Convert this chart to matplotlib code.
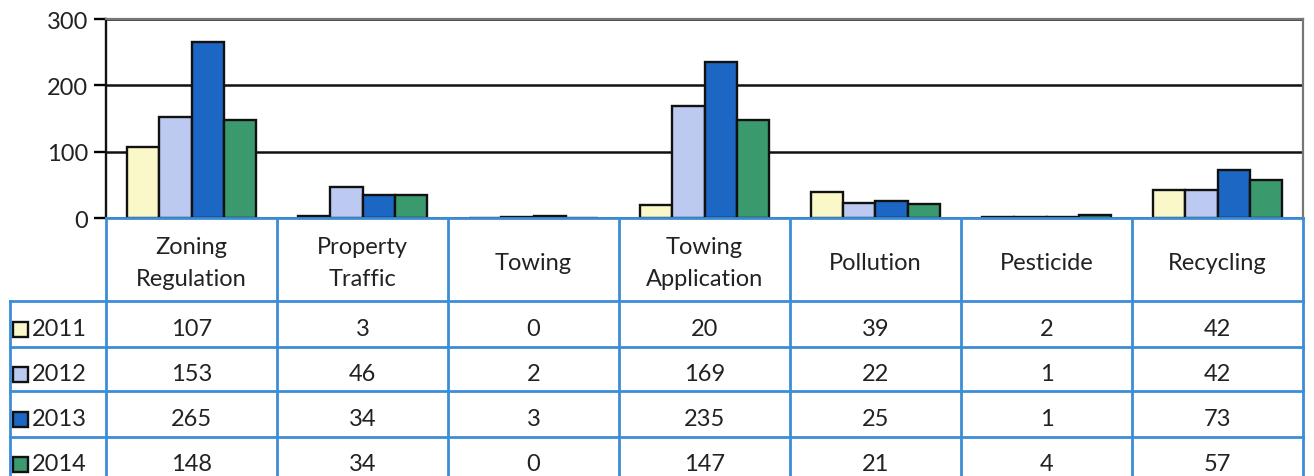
import matplotlib
matplotlib.use("Agg")
import matplotlib.pyplot as plt
from matplotlib.patches import Rectangle

categories = ["Zoning\nRegulation", "Property\nTraffic", "Towing", "Towing\nApplication",
              "Pollution", "Pesticide", "Recycling"]
years = ["2011", "2012", "2013", "2014"]
v2011 = [107, 3, 0, 20, 39, 2, 42]
v2012 = [153, 46, 2, 169, 22, 1, 42]
v2013 = [265, 34, 3, 235, 25, 1, 73]
v2014 = [148, 34, 0, 147, 21, 4, 57]
series = [v2011, v2012, v2013, v2014]
colors = ["#FAF8C8", "#BCCAF2", "#1C66C4", "#3B9A6D"]

W, H = 1314, 477
plt.rcParams["font.family"] = ["Lato", "DejaVu Sans"]
fig = plt.figure(figsize=(W / 100, H / 100), dpi=100)

# pixel layout
left, right = 106, 1303
top, zero = 20, 219
row_lines = [302, 348, 392, 438]
label_left = 10
tcol = "#3C8DD6"
tcolor = "#222222"
fs = 17

ax = fig.add_axes([left / W, (H - zero) / H, (right - left) / W, (zero - top) / H])
n = len(categories)
w = 0.19
for j, (vals, c) in enumerate(zip(series, colors)):
    xs = [i + (j - 1.5) * w for i in range(n)]
    ax.bar(xs, vals, width=w, color=c, edgecolor="#111111", linewidth=1.7, zorder=3)

ax.set_xlim(-0.5, n - 0.5)
ax.set_ylim(0, 300)
ax.set_yticks([0, 100, 200, 300])
ax.set_xticks([])
ax.yaxis.grid(True, color="#111111", linewidth=1.8, zorder=0)
ax.tick_params(axis="y", direction="out", length=9, width=1.7, labelsize=17,
               labelcolor=tcolor, pad=4)
ax.spines["left"].set_linewidth(1.7)
ax.spines["left"].set_color("#111111")
ax.spines["top"].set_color("#777777")
ax.spines["top"].set_linewidth(1.6)
ax.spines["right"].set_color("#777777")
ax.spines["right"].set_linewidth(1.6)
ax.spines["bottom"].set_visible(False)

# data table under the chart, drawn in pixel coordinates
tab = fig.add_axes([0, 0, 1, 1], zorder=5)
tab.set_xlim(0, W)
tab.set_ylim(H, 0)
tab.axis("off")
tab.patch.set_alpha(0)

cw = (right - left) / n
lw = 2
tab.plot([left, right], [zero, zero], color=tcol, lw=lw)
for k in range(n + 1):
    x = left + k * cw
    tab.plot([x, x], [zero, H + 5], color=tcol, lw=lw)
tab.plot([label_left, label_left], [row_lines[0], H + 5], color=tcol, lw=lw)
for y in row_lines:
    tab.plot([label_left, right], [y, y], color=tcol, lw=lw)

# header labels
for i, cat in enumerate(categories):
    tab.text(left + (i + 0.5) * cw, (zero + row_lines[0]) / 2 + 3, cat, ha="center",
             va="center", fontsize=fs, color=tcolor, linespacing=1.65)

# rows
row_bottoms = row_lines[1:] + [row_lines[-1] + 44]
for j, (yr, vals, c) in enumerate(zip(years, series, colors)):
    y0, y1 = row_lines[j], row_bottoms[j]
    yc = (y0 + y1) / 2 + 5
    tab.add_patch(Rectangle((13, yc - 7.5), 15, 15, facecolor=c, edgecolor="#111111", lw=1.7))
    tab.text(32, yc, yr, ha="left", va="center", fontsize=fs, color=tcolor)
    for i, v in enumerate(vals):
        tab.text(left + (i + 0.5) * cw, yc, str(v), ha="center", va="center",
                 fontsize=fs, color=tcolor)

fig.savefig("out.png", dpi=100)
